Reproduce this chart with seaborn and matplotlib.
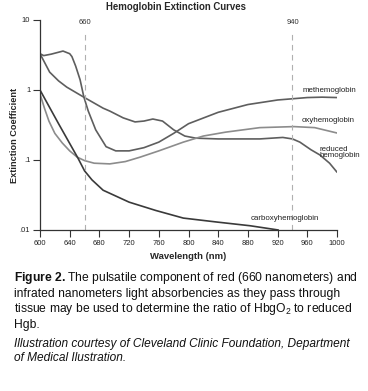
import pandas as pd
import matplotlib.pyplot as plt
import seaborn as sns

# Values (wavelength nm, extinction coefficient)
met_wl = [600, 605, 615, 631, 640, 643, 648, 654, 659, 665, 675, 689, 702, 720,
          740, 760, 780, 800, 840, 880, 920, 960, 980, 1000]
met_val = [3.3, 3.1, 3.25, 3.6, 3.3, 3.0, 2.2, 1.4, 0.8, 0.5, 0.27, 0.155, 0.135, 0.135,
           0.15, 0.18, 0.24, 0.33, 0.48, 0.62, 0.72, 0.78, 0.79, 0.78]

red_wl = [600, 613, 625, 636, 659, 685, 694, 712, 728, 740, 752, 765, 780, 795,
          810, 840, 896, 927, 940, 950, 965, 977, 990, 1000]
red_val = [3.3, 1.8, 1.35, 1.1, 0.79, 0.55, 0.5, 0.40, 0.35, 0.36, 0.385, 0.36, 0.27, 0.22,
           0.205, 0.2, 0.2, 0.21, 0.2, 0.18, 0.14, 0.118, 0.09, 0.067]

oxy_wl = [600, 606, 612, 620, 630, 640, 650, 660, 673, 694, 715, 735, 760, 793,
          820, 850, 896, 942, 970, 1000]
oxy_val = [0.88, 0.55, 0.36, 0.24, 0.175, 0.135, 0.11, 0.098, 0.09, 0.088, 0.095, 0.11,
           0.135, 0.18, 0.22, 0.25, 0.29, 0.30, 0.29, 0.243]

carb_wl = [600, 625, 651, 660, 670, 685, 720, 756, 793, 838, 883, 921]
carb_val = [1.0, 0.33, 0.107, 0.07, 0.052, 0.037, 0.025, 0.019, 0.0148, 0.013, 0.0115, 0.010]

x_ticks = [600, 640, 680, 720, 760, 800, 840, 880, 920, 960, 1000]
y_ticks = [0.01, 0.1, 1, 10]
y_tick_labels = ['.01', '.1', '1', '10']
marker_wl = [660, 940]

sns.set_theme(style="white")
plt.rcParams['font.family'] = ['Liberation Sans', 'DejaVu Sans']
plt.rcParams['mathtext.fontset'] = 'custom'
plt.rcParams['mathtext.rm'] = 'Liberation Sans'
plt.rcParams['mathtext.bf'] = 'Liberation Sans:bold'

df = pd.concat([
    pd.DataFrame({'wl': met_wl, 'val': met_val, 'curve': 'methemoglobin'}),
    pd.DataFrame({'wl': red_wl, 'val': red_val, 'curve': 'reduced'}),
    pd.DataFrame({'wl': oxy_wl, 'val': oxy_val, 'curve': 'oxyhemoglobin'}),
    pd.DataFrame({'wl': carb_wl, 'val': carb_val, 'curve': 'carboxyhemoglobin'}),
])
palette = {'methemoglobin': '#5e5e5e', 'reduced': '#5e5e5e',
           'oxyhemoglobin': '#8c8c8c', 'carboxyhemoglobin': '#3a3a3a'}

fig = plt.figure(figsize=(3.68, 3.91), dpi=100)
ax = fig.add_axes([40 / 368, 1 - 230 / 391, 297 / 368, 210 / 391])

sns.lineplot(data=df, x='wl', y='val', hue='curve', palette=palette, ax=ax,
             legend=False, linewidth=1.2, sort=False, estimator=None)

for w in marker_wl:
    ax.axvline(w, ymin=0, ymax=0.952, color='#b0b0b0', lw=0.8, ls=(0, (5, 4)))
    ax.text(w, 0.988, str(w), transform=ax.get_xaxis_transform(), ha='center',
            va='center', fontsize=5.5, color='#333333')

ax.set_yscale('log')
ax.set_xlim(600, 1000)
ax.set_ylim(0.01, 10)
ax.set_xticks(x_ticks)
ax.set_xticklabels([str(t) for t in x_ticks])
ax.set_yticks(y_ticks)
ax.set_yticklabels(y_tick_labels)
ax.minorticks_off()
ax.tick_params(axis='both', which='major', direction='out', length=5, width=0.8,
               color='#333333', labelsize=5.5, labelcolor='#222222', pad=2,
               left=True, bottom=True)
sns.despine(ax=ax)
for s in ['left', 'bottom']:
    ax.spines[s].set_color('#333333')
    ax.spines[s].set_linewidth(0.9)

ax.set_xlabel('Wavelength (nm)', fontsize=6.8, fontweight='bold', labelpad=4)
ax.set_ylabel('Extinction Coefficient', fontsize=6.6, fontweight='bold')
ax.yaxis.set_label_coords(-0.072, 0.45)

lab = dict(fontsize=5.7, color='#222222', ha='left', va='center')
ax.text(953, 0.97, 'methemoglobin', **lab)
ax.text(953, 0.37, 'oxyhemoglobin', **lab)
ax.text(977, 0.126, 'reduced\nhemoglobin', linespacing=0.8, **lab)
ax.text(883, 0.0144, 'carboxyhemoglobin', **lab)

fig.text(176 / 368, 1 - 7 / 391, 'Hemoglobin Extinction Curves', ha='center', va='center',
         fontsize=6.9, fontweight='bold')

caption = (r'$\mathbf{Figure\ 2.}$The pulsatile component of red (660 nanometers) and' + '\n'
           'infrated nanometers light absorbencies as they pass through\n'
           r'tissue may be used to determine the ratio of HbgO$_2$ to reduced' + '\n'
           'Hgb.')
fig.text(14 / 368, 1 - 270 / 391, caption, ha='left', va='top', fontsize=8.75,
         linespacing=1.17, color='#111111')
fig.text(14 / 368, 1 - 338 / 391,
         'Illustration courtesy of Cleveland Clinic Foundation, Department\n'
         'of Medical Ilustration.', ha='left', va='top', fontsize=8.6, style='italic',
         linespacing=1.2, color='#111111')

fig.savefig('out.png', dpi=100)
